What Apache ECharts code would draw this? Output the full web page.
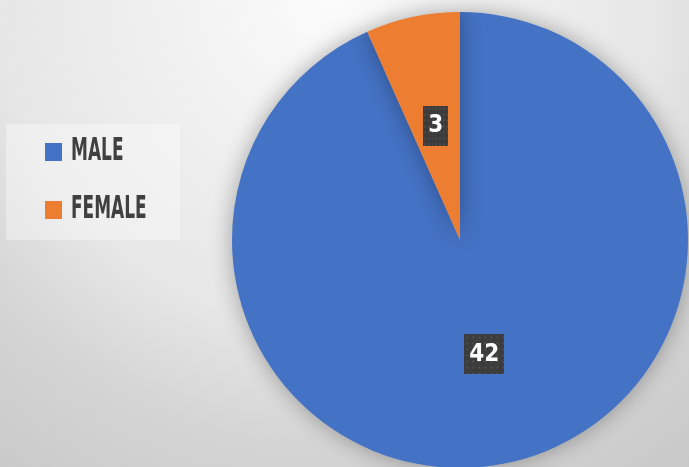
<!DOCTYPE html>
<html>
<head>
<meta charset="utf-8">
<script src="https://cdn.jsdelivr.net/npm/echarts@6/dist/echarts.min.js"></script>
<style>
  html, body { margin: 0; padding: 0; }
  body {
    width: 689px; height: 467px; overflow: hidden;
    background: radial-gradient(circle at 330px 0px, #fbfbfb 0px, #e6e6e6 330px, #d5d5d5 440px, #c8c8c8 590px);
  }
  #chart { width: 689px; height: 467px; }
</style>
</head>
<body>
<div id="chart"></div>
<script>
// Gender split
const categories = ['MALE', 'FEMALE'];
const counts = [42, 3];
const colors = ['#4472C4', '#ED7D31'];

// Dark dotted fill for the value boxes
function dottedTile(w, h) {
  const c = document.createElement('canvas');
  c.width = w; c.height = h;
  const g = c.getContext('2d');
  g.fillStyle = '#3c3c3c';
  g.fillRect(0, 0, w, h);
  g.fillStyle = '#4e4e4e';
  for (let y = 2; y < h; y += 6) {
    for (let x = 2; x < w; x += 6) {
      g.fillRect(x, y, 2, 2);
    }
  }
  return c;
}
const tile = dottedTile(40, 40);

const chart = echarts.init(document.getElementById('chart'));

const condensed = '"DejaVu Sans Condensed", "Liberation Sans Narrow", sans-serif';

// Key on the left: colour squares plus narrowed bold labels
const keyItems = [];
categories.forEach((name, i) => {
  const rowY = [152, 210][i];
  keyItems.push({
    type: 'rect',
    shape: { x: 45, y: rowY - 9, width: 17, height: 18 },
    style: { fill: colors[i] }
  });
  keyItems.push({
    type: 'text',
    x: 71, y: rowY,
    scaleX: 0.59,
    style: {
      text: name,
      font: 'bold 32px ' + condensed,
      fill: '#404040',
      verticalAlign: 'middle',
      align: 'left'
    }
  });
});

chart.setOption({
  animation: false,
  color: colors,
  graphic: [
    {
      type: 'rect',
      shape: { x: 6, y: 124, width: 174, height: 116 },
      style: { fill: 'rgba(255,255,255,0.35)' },
      z: 0
    }
  ].concat(keyItems),
  series: [{
    type: 'pie',
    center: [460, 240],
    radius: 228,
    startAngle: 90,
    clockwise: true,
    data: categories.map((name, i) => ({ name: name, value: counts[i] })),
    itemStyle: {
      shadowBlur: 22,
      shadowColor: 'rgba(0,0,0,0.32)'
    },
    emphasis: { disabled: true },
    labelLine: { show: false },
    label: {
      show: true,
      position: 'inside',
      formatter: '{c}',
      color: '#ffffff',
      fontFamily: condensed,
      fontWeight: 'bold',
      fontSize: 24,
      lineHeight: 24,
      padding: [8, 5],
      backgroundColor: { image: tile },
      shadowColor: 'rgba(0,0,0,0.55)',
      shadowBlur: 6,
      shadowOffsetX: 3,
      shadowOffsetY: 3
    }
  }]
});
</script>
</body>
</html>
